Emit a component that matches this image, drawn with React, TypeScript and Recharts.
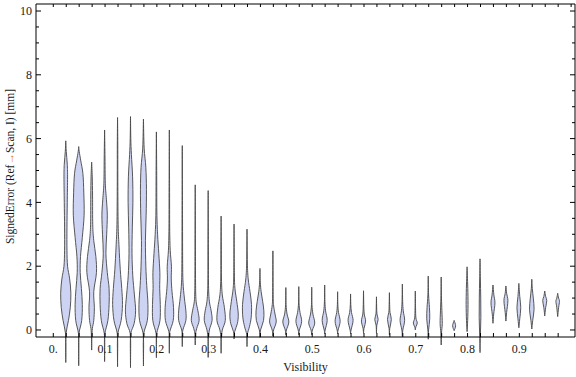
import React from 'react';
import { ComposedChart, Bar, XAxis, YAxis } from 'recharts';

// Visibility bins (centres of the violins)
const positions = [
  0.025, 0.05, 0.075, 0.1, 0.125, 0.15, 0.175, 0.2, 0.225, 0.25,
  0.275, 0.3, 0.325, 0.35, 0.375, 0.4, 0.425, 0.45, 0.475, 0.5,
  0.525, 0.55, 0.575, 0.6, 0.625, 0.65, 0.675, 0.7, 0.725, 0.75,
  0.775, 0.8, 0.825, 0.85, 0.875, 0.9, 0.925, 0.95, 0.975,
];

// min / max of the signed error in each bin [mm]
const lowEnds = [
  -1.02, -1.12, -0.63, -0.99, -1.15, -1.18, -1.13, -0.87, -0.73, -0.52,
  -0.47, -0.86, -0.73, -0.28, -0.52, -0.23, -0.19, -0.15, -0.15, -0.15,
  -0.12, -0.12, -0.12, -0.1, -0.1, -0.15, -0.2, 0.0, -0.29, -0.47,
  -0.02, -0.05, -0.71, 0.21, 0.28, 0.07, 0.03, 0.44, 0.42,
];
const highEnds = [
  5.93, 5.75, 5.26, 6.27, 6.66, 6.69, 6.61, 6.21, 6.27, 5.78,
  4.55, 4.37, 3.57, 3.32, 3.16, 1.93, 2.48, 1.33, 1.36, 1.34,
  1.41, 1.2, 1.13, 1.23, 1.04, 1.17, 1.44, 1.22, 1.69, 1.66,
  0.3, 1.98, 2.23, 1.41, 1.38, 1.46, 1.59, 1.22, 1.15,
];

// density outline: [error value, relative width]
const shapes: number[][][] = [
  [[-0.5,0.03],[-0.1,0.05],[0.3,0.45],[0.7,0.75],[1.15,0.85],[1.6,0.65],[2.0,0.3],[2.5,0.2],[3.2,0.2],[4.0,0.25],[4.8,0.3],[5.2,0.25],[5.6,0.08]],
  [[-0.5,0.03],[-0.1,0.05],[0.3,0.5],[0.8,0.6],[1.3,0.45],[1.8,0.25],[2.3,0.3],[2.9,0.6],[3.6,0.9],[4.3,0.85],[4.9,0.7],[5.3,0.35],[5.6,0.08]],
  [[-0.2,0.04],[0.05,0.12],[0.3,0.35],[0.7,0.45],[1.2,0.35],[1.8,0.8],[2.3,0.7],[2.8,0.35],[3.3,0.18],[4.2,0.15],[4.8,0.1]],
  [[-0.4,0.03],[-0.1,0.06],[0.3,0.55],[0.8,0.75],[1.3,0.75],[1.8,0.45],[2.4,0.22],[3.0,0.35],[3.6,0.45],[4.1,0.3],[4.6,0.12],[5.5,0.06]],
  [[-0.5,0.03],[-0.1,0.06],[0.3,0.6],[0.8,0.82],[1.3,0.7],[1.9,0.45],[2.6,0.25],[3.3,0.1],[4.5,0.05],[5.8,0.04]],
  [[-0.5,0.03],[-0.1,0.06],[0.2,0.6],[0.6,0.85],[1.1,0.65],[1.7,0.38],[2.4,0.25],[3.2,0.3],[4.0,0.4],[4.8,0.35],[5.5,0.15],[6.0,0.05]],
  [[-0.5,0.03],[-0.1,0.06],[0.3,0.65],[0.8,0.75],[1.4,0.55],[2.0,0.4],[2.8,0.33],[3.6,0.45],[4.4,0.5],[5.1,0.4],[5.7,0.12]],
  [[-0.4,0.03],[-0.1,0.06],[0.3,0.6],[0.8,0.65],[1.3,0.55],[1.8,0.58],[2.4,0.4],[3.0,0.2],[3.7,0.08],[5.0,0.05]],
  [[-0.3,0.03],[-0.05,0.08],[0.3,0.65],[0.7,0.7],[1.2,0.45],[1.6,0.32],[2.0,0.35],[2.5,0.15],[3.2,0.06],[4.5,0.04]],
  [[-0.2,0.03],[0.0,0.1],[0.3,0.6],[0.6,0.6],[1.0,0.35],[1.5,0.12],[2.2,0.06],[3.5,0.04]],
  [[-0.15,0.04],[0.05,0.25],[0.3,0.65],[0.6,0.45],[0.9,0.15],[1.4,0.06],[2.5,0.04]],
  [[-0.3,0.03],[0.0,0.2],[0.3,0.65],[0.6,0.5],[0.9,0.2],[1.4,0.06],[2.5,0.04]],
  [[-0.3,0.03],[0.0,0.2],[0.3,0.7],[0.7,0.55],[1.1,0.2],[1.6,0.06],[2.5,0.04]],
  [[-0.05,0.1],[0.2,0.55],[0.5,0.7],[0.9,0.45],[1.3,0.15],[1.8,0.05]],
  [[-0.15,0.05],[0.1,0.4],[0.4,0.7],[0.8,0.75],[1.2,0.5],[1.6,0.2],[2.1,0.06]],
  [[0.0,0.1],[0.3,0.6],[0.6,0.65],[0.9,0.45],[1.2,0.2],[1.5,0.06]],
  [[0.0,0.12],[0.25,0.55],[0.5,0.35],[0.8,0.1],[1.2,0.04]],
  [[0.0,0.1],[0.25,0.5],[0.5,0.2],[0.8,0.04]],
  [[0.0,0.1],[0.27,0.48],[0.55,0.2],[0.85,0.04]],
  [[0.0,0.12],[0.22,0.5],[0.5,0.2],[0.8,0.04]],
  [[0.0,0.08],[0.3,0.42],[0.6,0.15],[0.9,0.04]],
  [[0.0,0.08],[0.27,0.42],[0.55,0.15],[0.8,0.04]],
  [[0.0,0.08],[0.3,0.42],[0.55,0.15],[0.8,0.04]],
  [[0.05,0.08],[0.28,0.35],[0.5,0.12],[0.8,0.04]],
  [[0.15,0.06],[0.33,0.28],[0.5,0.08],[0.75,0.03]],
  [[0.05,0.06],[0.33,0.32],[0.55,0.1],[0.8,0.04]],
  [[0.0,0.08],[0.3,0.38],[0.6,0.15],[0.9,0.05]],
  [[0.1,0.1],[0.22,0.33],[0.38,0.1],[0.7,0.04]],
  [[0.0,0.06],[0.35,0.25],[0.7,0.2],[1.1,0.06]],
  [[-0.1,0.05],[0.2,0.18],[0.6,0.12],[1.0,0.05]],
  [[0.13,0.25]],
  [[0.3,0.1],[0.8,0.16],[1.3,0.12],[1.7,0.05]],
  [[-0.2,0.05],[0.4,0.14],[1.0,0.12],[1.6,0.06]],
  [[0.5,0.12],[0.85,0.33],[1.1,0.15]],
  [[0.55,0.12],[0.92,0.33],[1.15,0.12]],
  [[0.35,0.15],[0.7,0.32],[1.05,0.15]],
  [[0.3,0.15],[0.65,0.38],[1.0,0.25],[1.3,0.08]],
  [[0.7,0.15],[0.92,0.34],[1.05,0.15]],
  [[0.7,0.15],[0.9,0.3],[1.0,0.15]],
];

const xLabelTicks = [0, 0.1, 0.2, 0.3, 0.4, 0.5, 0.6, 0.7, 0.8, 0.9];
const xBottomTicks = [0, ...positions];
const xTopTicks = [0, ...positions, 1.0];
const yMajorTicks = [0, 2, 4, 6, 8, 10];
const yAllTicks = [0, 0.5, 1, 1.5, 2, 2.5, 3, 3.5, 4, 4.5, 5, 5.5, 6, 6.5, 7, 7.5, 8, 8.5, 9, 9.5, 10];

const rows = positions.map((x, i) => ({
  x,
  hi: highEnds[i],
  knots: [[lowEnds[i], 0], ...shapes[i], [highEnds[i], 0]],
}));

const X_DOMAIN: [number, number] = [-0.0334, 1.0075];
const Y_DOMAIN: [number, number] = [-0.22, 10.22];
const FONT = "'Liberation Serif', 'Times New Roman', serif";
const INK = '#1a1a1a';

function curve(pts: number[][]) {
  let s = '';
  for (let i = 0; i < pts.length - 1; i++) {
    const p0 = pts[i - 1] || pts[i];
    const p1 = pts[i];
    const p2 = pts[i + 1];
    const p3 = pts[i + 2] || p2;
    const c1x = p1[0] + (p2[0] - p0[0]) / 6;
    const c1y = p1[1] + (p2[1] - p0[1]) / 6;
    const c2x = p2[0] - (p3[0] - p1[0]) / 6;
    const c2y = p2[1] - (p3[1] - p1[1]) / 6;
    s += ` C${c1x.toFixed(2)},${c1y.toFixed(2)} ${c2x.toFixed(2)},${c2y.toFixed(2)} ${p2[0].toFixed(2)},${p2[1].toFixed(2)}`;
  }
  return s;
}

function Violin(props: any) {
  const { x, y, width, height, payload } = props;
  if (!payload || !height) return null;
  const hi = payload.hi;
  const py = (v: number) => y + (height * (hi - v)) / hi;
  const cx = x + width / 2;
  const half = width / 2;
  const right = payload.knots.map((k: number[]) => [cx + k[1] * half, py(k[0])]);
  const left = right
    .slice()
    .reverse()
    .map((p: number[]) => [2 * cx - p[0], p[1]]);
  const d = `M${right[0][0].toFixed(2)},${right[0][1].toFixed(2)}` + curve(right) + curve(left) + ' Z';
  return (
    <path
      d={d}
      fill="#cdd3f3"
      stroke="#474747"
      strokeOpacity={0.9}
      strokeWidth={1}
      strokeLinejoin="round"
    />
  );
}

// inward frame ticks (drawn by mirrored axes)
const makeTick = (dir: 'up' | 'down' | 'left' | 'right', len: (v: number) => number) =>
  (props: any) => {
    const { x, y, payload } = props;
    const L = len(payload.value);
    const dx = dir === 'right' ? L : dir === 'left' ? -L : 0;
    const dy = dir === 'down' ? L : dir === 'up' ? -L : 0;
    return <line x1={x} y1={y} x2={x + dx} y2={y + dy} stroke="#000" strokeWidth={1} />;
  };
const yTickLen = (v: number) => (yMajorTicks.includes(v) ? 5 : 3);

const YLabel = () => (
  <text
    x={14}
    y={166.5}
    transform="rotate(-90 14 166.5)"
    textAnchor="middle"
    fontFamily={FONT}
    fontSize={11.5}
    fill={INK}
  >
    SignedError (Ref<tspan fill="#e07a22">→</tspan>Scan, I) [mm]
  </text>
);

export default function App() {
  const tickStyle = { fontFamily: FONT, fontSize: 12, fill: INK };
  return (
    <div style={{ position: 'absolute', left: 0, top: 0, background: '#fff' }}>
      <ComposedChart
        width={576}
        height={377}
        data={rows}
        margin={{ top: 4, right: 1, bottom: 0, left: 0 }}
      >
        <XAxis
          xAxisId="x"
          dataKey="x"
          type="number"
          domain={X_DOMAIN}
          ticks={xLabelTicks}
          interval={0}
          tickFormatter={(v: number) => (v === 0 ? '0.' : String(v))}
          tick={tickStyle}
          tickLine={false}
          tickSize={0}
          tickMargin={7}
          axisLine={{ stroke: '#000', strokeWidth: 1 }}
          height={40}
          label={{
            value: 'Visibility',
            position: 'insideBottom',
            offset: 6,
            style: { fontFamily: FONT, fontSize: 12, fill: INK },
          }}
        />
        <XAxis
          xAxisId="xb"
          dataKey="x"
          type="number"
          domain={X_DOMAIN}
          allowDataOverflow
          ticks={xBottomTicks}
          interval={0}
          orientation="bottom"
          mirror
          tick={makeTick('up', () => 4)}
          tickLine={false}
          tickSize={0}
          tickMargin={0}
          axisLine={false}
          height={1}
        />
        <XAxis
          xAxisId="xt"
          dataKey="x"
          type="number"
          domain={X_DOMAIN}
          allowDataOverflow
          ticks={xTopTicks}
          interval={0}
          orientation="top"
          mirror
          tick={makeTick('down', () => 3)}
          tickLine={false}
          tickSize={0}
          tickMargin={0}
          axisLine={{ stroke: '#000', strokeWidth: 1 }}
          height={1}
        />
        <YAxis
          yAxisId="y"
          type="number"
          domain={Y_DOMAIN}
          ticks={yMajorTicks}
          interval={0}
          tick={tickStyle}
          tickLine={false}
          tickSize={0}
          tickMargin={4}
          axisLine={{ stroke: '#000', strokeWidth: 1 }}
          width={36}
          label={<YLabel />}
        />
        <YAxis
          yAxisId="yl"
          type="number"
          domain={Y_DOMAIN}
          allowDataOverflow
          ticks={yAllTicks}
          interval={0}
          mirror
          tick={makeTick('right', yTickLen)}
          tickLine={false}
          tickSize={0}
          tickMargin={0}
          axisLine={false}
          width={1}
        />
        <YAxis
          yAxisId="yr"
          orientation="right"
          type="number"
          domain={Y_DOMAIN}
          allowDataOverflow
          ticks={yAllTicks}
          interval={0}
          mirror
          tick={makeTick('left', yTickLen)}
          tickLine={false}
          tickSize={0}
          tickMargin={0}
          axisLine={{ stroke: '#000', strokeWidth: 1 }}
          width={1}
        />
        <Bar
          xAxisId="x"
          yAxisId="y"
          dataKey="hi"
          barSize={12}
          shape={Violin}
          isAnimationActive={false}
        />
      </ComposedChart>
    </div>
  );
}
